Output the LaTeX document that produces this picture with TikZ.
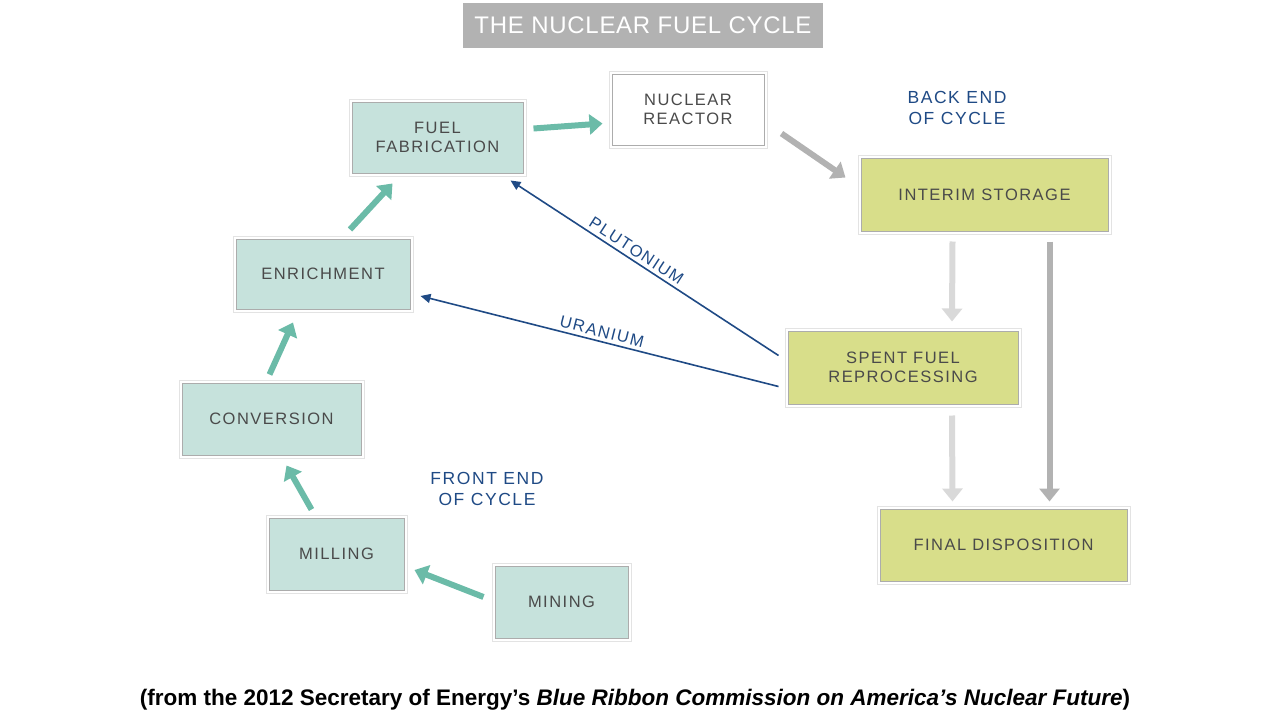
\documentclass[tikz,border=0pt]{standalone}
\usepackage{fontspec}
\setmainfont{Liberation Sans}
\newfontfamily\spc[LetterSpace=9]{Liberation Sans}
\newfontfamily\spt[LetterSpace=3]{Liberation Sans}
\usetikzlibrary{arrows.meta,calc}
\definecolor{teal1}{HTML}{C6E2DC}
\definecolor{tealA}{HTML}{6BBBA8}
\definecolor{yel}{HTML}{D8DE8A}
\definecolor{bluet}{HTML}{1F4A85}
\definecolor{txt}{HTML}{4A4A4A}
\begin{document}
\begin{tikzpicture}[x=1pt,y=-1pt,
 box/.style={preaction={draw=gray!22,line width=7pt},preaction={draw=white,line width=5pt},
   draw=gray!65,line width=1pt,minimum width=#1,text=txt,font=\spc\fontsize{16.5}{19}\selectfont,
   align=center,inner sep=0pt},
 tb/.style={box=#1,fill=teal1},
 yb/.style={box=#1,fill=yel},
 ta/.style={draw=tealA,line width=6pt,-{Triangle[length=13pt,width=20pt]}},
 ga/.style={draw=#1,line width=6pt,-{Triangle[length=13pt,width=20pt]}},
 ba/.style={draw=bluet,line width=1.6pt,-{Triangle[length=10pt,width=9pt]}},
 lbl/.style={text=bluet,font=\spc\fontsize{17.5}{21}\selectfont,align=center}]
\useasboundingbox (0,0) rectangle (1280,720);
\node[fill=gray!60,text=white,minimum width=360pt,minimum height=45pt,inner sep=0pt,font=\spt\fontsize{24}{26}\selectfont] (title) at (643,25.5) {THE NUCLEAR FUEL CYCLE};
\node[tb=171pt,minimum height=71pt] (fab) at (437.5,137.5) {FUEL\\FABRICATION};
\node[box=152pt,fill=white,minimum height=71pt] (reac) at (688,109.5) {NUCLEAR\\REACTOR};
\node[yb=247pt,minimum height=73pt] (int) at (984.5,194.5) {INTERIM STORAGE};
\node[tb=174pt,minimum height=70pt] (enr) at (323,274) {ENRICHMENT};
\node[tb=179pt,minimum height=72pt] (conv) at (271.5,419) {CONVERSION};
\node[tb=135pt,minimum height=72pt] (mill) at (336.5,554) {MILLING};
\node[tb=133pt,minimum height=72pt] (mine) at (561.5,602) {MINING};
\node[yb=230pt,minimum height=73pt] (rep) at (903,367.5) {SPENT FUEL\\REPROCESSING};
\node[yb=247pt,minimum height=72pt] (fin) at (1003.5,545) {FINAL DISPOSITION};
\node[lbl] (back) at (957,108) {BACK END\\OF CYCLE};
\node[lbl] (front) at (487,489) {FRONT END\\OF CYCLE};
\draw[ta] ($(fab.east)+(10,-9)$) -- ($(reac.west)+(-9,14)$);
\draw[ta] ($(enr.north)+(27,-9)$) -- ($(fab.south)+(-45,10)$);
\draw[ta] ($(conv.north)+(-2,-8)$) -- ($(enr.south)+(-30,13)$);
\draw[ta] ($(mill.north)+(-25,-8)$) -- ($(conv.south)+(15,10)$);
\draw[ta] ($(mine.west)+(-11,-5)$) -- ($(mill.east)+(10,16)$);
\draw[ga=gray!60] ($(reac.east)+(17,24)$) -- ($(int.west)+(-15,-17)$);
\draw[ga=gray!30] ($(int.south)+(-32,10)$) -- ($(rep.north)+(49,-9)$);
\draw[ga=gray!30] ($(rep.south)+(49,11)$) -- ($(fin.north)+(-51,-7)$);
\draw[ga=gray!60] ($(int.south)+(65,10)$) -- ($(fin.north)+(46,-7)$);
\draw[ba] ($(rep.west)+(-9,-12)$) -- node[sloped,above,text=bluet,font=\spc\fontsize{16.5}{18}\selectfont,pos=0.55] {PLUTONIUM} ($(fab.south east)+(-13,7)$);
\draw[ba] ($(rep.west)+(-9,19)$) -- node[sloped,above,text=bluet,font=\spc\fontsize{16.5}{18}\selectfont,pos=0.5] {URANIUM} ($(enr.east)+(10,22)$);
\node[font=\bfseries\fontsize{22.5}{24}\selectfont] (cap) at (635,700) {(from the 2012 Secretary of Energy’s \textit{Blue Ribbon Commission on America’s Nuclear Future})};
\end{tikzpicture}
\end{document}
